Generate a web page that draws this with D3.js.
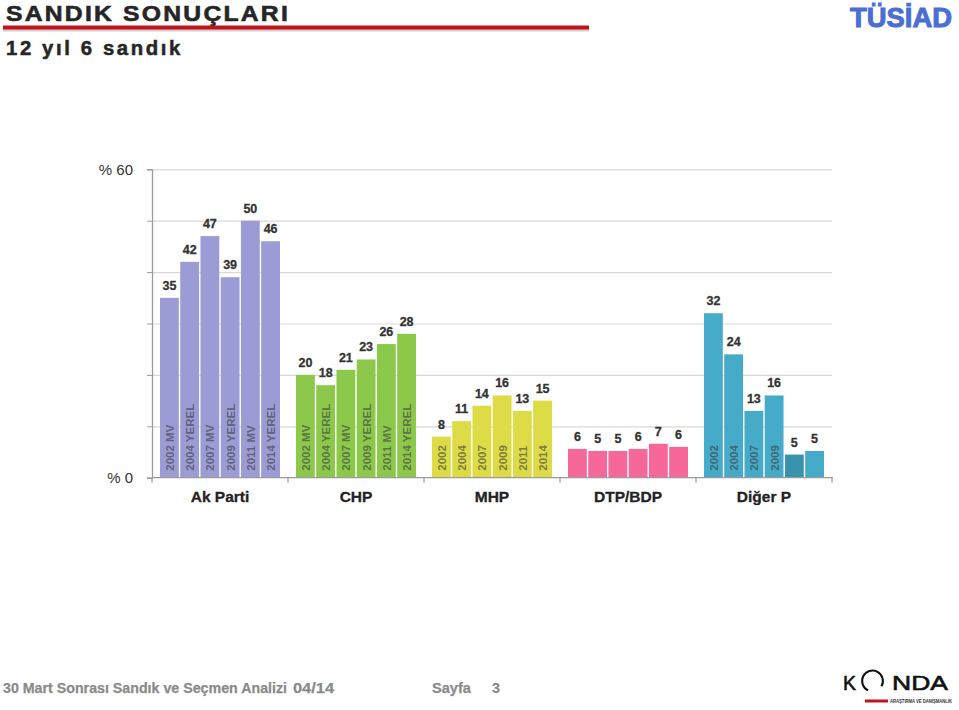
<!DOCTYPE html>
<html>
<head>
<meta charset="utf-8">
<script src="https://cdn.jsdelivr.net/npm/d3@7"></script>
<style>
  html, body { margin: 0; padding: 0; background: #fff; }
  svg { display: block; font-family: "Liberation Sans", Arial, sans-serif; }
</style>
</head>
<body>
<svg id="chart" width="959" height="710"></svg>
<script>
// ---- data ----
const categories = ["Ak Parti", "CHP", "MHP", "DTP/BDP", "Diğer P"];
const akParti = [35, 42, 47, 39, 50, 46];
const chp     = [20, 18, 21, 23, 26, 28];
const mhp     = [8, 11, 14, 16, 13, 15];
const dtpBdp  = [5.6, 5.2, 5.2, 5.6, 6.6, 6];
const diger   = [32, 24, 13, 16, 4.5, 5.2];
const valueLabels = [
  ["35", "42", "47", "39", "50", "46"],
  ["20", "18", "21", "23", "26", "28"],
  ["8", "11", "14", "16", "13", "15"],
  ["6", "5", "5", "6", "7", "6"],
  ["32", "24", "13", "16", "5", "5"]
];
const innerLabels = [
  ["2002 MV", "2004 YEREL", "2007 MV", "2009 YEREL", "2011 MV", "2014 YEREL"],
  ["2002 MV", "2004 YEREL", "2007 MV", "2009 YEREL", "2011 MV", "2014 YEREL"],
  ["2002", "2004", "2007", "2009", "2011", "2014"],
  ["", "", "", "", "", ""],
  ["2002", "2004", "2007", "2009", "", ""]
];
const yTicks = [0, 10, 20, 30, 40, 50, 60];
const series = [akParti, chp, mhp, dtpBdp, diger];
const colors = ["#9b9bd6", "#8cc94b", "#dddc46", "#f7689a", "#46abc8"];
const specialColor = { group: 4, index: 4, color: "#3a93ae" };

// ---- layout ----
const svg = d3.select("#chart");
const plotLeft = 152, plotRight = 832, plotTop = 169.3, plotBottom = 477.7;

const y = d3.scaleLinear().domain([0, 60]).range([plotBottom, plotTop]);
const x = d3.scaleBand().domain(categories).range([plotLeft, plotRight])
  .paddingInner(0.1176).paddingOuter(0.0588);
const xi = d3.scaleBand().domain(d3.range(6)).range([0, x.bandwidth()]).paddingInner(0.07);

// gridlines
svg.append("g")
  .attr("transform", `translate(${plotLeft},0)`)
  .call(d3.axisLeft(y).tickValues(yTicks.filter(d => d > 0)).tickSize(-(plotRight - plotLeft)).tickFormat(""))
  .call(g => g.select(".domain").remove())
  .call(g => g.selectAll("line").attr("stroke", "#d9d9d9").attr("stroke-width", 1.2));

// y axis
svg.append("g")
  .attr("transform", `translate(${plotLeft},0)`)
  .call(d3.axisLeft(y).tickValues(yTicks).tickSize(5).tickPadding(14)
    .tickFormat(d => (d === 0 || d === 60) ? "% " + d : ""))
  .call(g => g.select(".domain").attr("stroke", "#9a9a9a").attr("stroke-width", 1.3))
  .call(g => g.selectAll("line").attr("stroke", "#9a9a9a"))
  .call(g => g.selectAll("text").attr("font-size", 15).attr("fill", "#333")
    .attr("font-family", "'Liberation Sans', Arial, sans-serif"));

// bars
const groups = svg.append("g").selectAll("g.grp")
  .data(categories)
  .join("g")
  .attr("class", "grp")
  .attr("transform", c => `translate(${x(c)},0)`);

groups.each(function(c, gi) {
  const g = d3.select(this);
  const vals = series[gi];
  g.selectAll("rect")
    .data(vals)
    .join("rect")
    .attr("x", (d, i) => xi(i))
    .attr("width", xi.bandwidth())
    .attr("y", d => y(d))
    .attr("height", d => y(0) - y(d))
    .attr("fill", (d, i) => (gi === specialColor.group && i === specialColor.index) ? specialColor.color : colors[gi]);

  g.selectAll("text.val")
    .data(vals)
    .join("text")
    .attr("class", "val")
    .attr("x", (d, i) => xi(i) + xi.bandwidth() / 2)
    .attr("y", d => y(d) - 8)
    .attr("text-anchor", "middle")
    .attr("font-size", 12.5)
    .attr("font-weight", "bold")
    .attr("fill", "#333")
    .attr("stroke", "#333").attr("stroke-width", 0.3)
    .text((d, i) => valueLabels[gi][i]);

  g.selectAll("text.inner")
    .data(vals)
    .join("text")
    .attr("class", "inner")
    .attr("transform", (d, i) => `translate(${xi(i) + xi.bandwidth() / 2 + 0.5},${plotBottom - 7}) rotate(-90)`)
    .attr("dominant-baseline", "central")
    .attr("font-size", 11.5)
    .attr("font-weight", "bold")
    .attr("fill", "#3c3c3c")
    .attr("fill-opacity", 0.62)
    .text((d, i) => innerLabels[gi][i]);
});

// bottom axis
svg.append("line")
  .attr("x1", plotLeft).attr("x2", plotRight + 1)
  .attr("y1", plotBottom).attr("y2", plotBottom)
  .attr("stroke", "#9a9a9a").attr("stroke-width", 1.3);
const boundaries = [plotLeft].concat(categories.slice(1).map(c => x(c) - x.step() * x.paddingInner() / 2));
boundaries.push(plotRight);
svg.append("g").selectAll("line")
  .data(boundaries)
  .join("line")
  .attr("x1", d => d).attr("x2", d => d)
  .attr("y1", plotBottom).attr("y2", plotBottom + 5)
  .attr("stroke", "#9a9a9a").attr("stroke-width", 1.2);

// category labels
svg.append("g").selectAll("text")
  .data(categories)
  .join("text")
  .attr("x", c => x(c) + x.bandwidth() / 2)
  .attr("y", 502)
  .attr("text-anchor", "middle")
  .attr("font-size", 15.5)
  .attr("font-weight", "bold")
  .attr("fill", "#222")
  .attr("stroke", "#222").attr("stroke-width", 0.3)
  .text(c => c);

// title
svg.append("text")
  .attr("x", 6).attr("y", 20.5)
  .attr("font-size", 22.5).attr("font-weight", "bold").attr("fill", "#262626")
  .attr("stroke", "#262626").attr("stroke-width", 0.6)
  .attr("letter-spacing", 2)
  .attr("textLength", 284).attr("lengthAdjust", "spacingAndGlyphs")
  .text("SANDIK SONUÇLARI");
svg.append("rect").attr("x", 3).attr("y", 29).attr("width", 586).attr("height", 2.5).attr("fill", "#cfcfcf");
svg.append("rect").attr("x", 3).attr("y", 25.5).attr("width", 586).attr("height", 4).attr("fill", "#c4121a");
svg.append("text")
  .attr("x", 6).attr("y", 55)
  .attr("font-size", 19.5).attr("font-weight", "bold").attr("fill", "#262626")
  .attr("stroke", "#262626").attr("stroke-width", 0.5)
  .attr("letter-spacing", 2.5)
  .attr("textLength", 177).attr("lengthAdjust", "spacingAndGlyphs")
  .text("12 yıl 6 sandık");

// TUSIAD logo
svg.append("text")
  .attr("x", 850).attr("y", 27)
  .attr("font-size", 28).attr("font-weight", "900").attr("fill", "#4a6fd4")
  .attr("stroke", "#4a6fd4").attr("stroke-width", 1)
  .attr("textLength", 102).attr("lengthAdjust", "spacingAndGlyphs")
  .text("TÜSİAD");

// footer
const footer = svg.append("g").attr("font-size", 14.5).attr("font-weight", "bold").attr("fill", "#8a8a8a")
  .attr("stroke", "#8a8a8a").attr("stroke-width", 0.25);
footer.append("text").attr("x", 3).attr("y", 693).attr("textLength", 284).attr("lengthAdjust", "spacingAndGlyphs")
  .text("30 Mart Sonrası Sandık ve Seçmen Analizi");
footer.append("text").attr("x", 293).attr("y", 693).attr("textLength", 41).attr("lengthAdjust", "spacingAndGlyphs").text("04/14");
footer.append("text").attr("x", 432).attr("y", 693).attr("textLength", 39).attr("lengthAdjust", "spacingAndGlyphs").text("Sayfa");
footer.append("text").attr("x", 492).attr("y", 693).text("3");

// KONDA logo
const k = svg.append("g");
k.append("text").attr("x", 843).attr("y", 690).attr("font-size", 21).attr("fill", "#111")
  .attr("stroke", "#111").attr("stroke-width", 0.6)
  .attr("textLength", 13).attr("lengthAdjust", "spacingAndGlyphs").text("K");
k.append("path")
  .attr("transform", "translate(872.5,681)")
  .attr("d", d3.arc()({ innerRadius: 9.4, outerRadius: 11.4, startAngle: -2.7, endAngle: 2.1 }))
  .attr("fill", "#111");
k.append("text").attr("x", 892).attr("y", 690).attr("font-size", 21).attr("fill", "#111")
  .attr("stroke", "#111").attr("stroke-width", 0.6)
  .attr("textLength", 56).attr("lengthAdjust", "spacingAndGlyphs").text("NDA");
k.append("rect").attr("x", 865).attr("y", 699.5).attr("width", 23).attr("height", 3).attr("fill", "#c4121a");
k.append("text").attr("x", 890).attr("y", 702.5).attr("font-size", 5).attr("font-weight", "bold").attr("fill", "#333")
  .attr("textLength", 62).attr("lengthAdjust", "spacingAndGlyphs").text("ARAŞTIRMA VE DANIŞMANLIK");
</script>
</body>
</html>
